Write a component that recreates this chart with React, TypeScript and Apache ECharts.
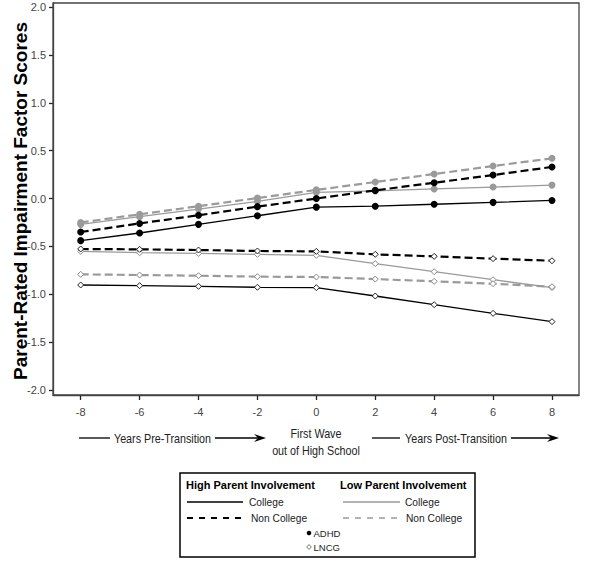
import React, { useEffect, useRef } from "react";
import * as echarts from "echarts";

const years = [-8, -6, -4, -2, 0, 2, 4, 6, 8];
const xTicks = [-8, -6, -4, -2, 0, 2, 4, 6, 8];
const yTicks = [-2, -1.5, -1, -0.5, 0, 0.5, 1, 1.5, 2];

// ADHD (filled circles)
const highCollegeADHD = [-0.44, -0.36, -0.27, -0.18, -0.09, -0.08, -0.06, -0.04, -0.02];
const highNonCollegeADHD = [-0.35, -0.26, -0.175, -0.085, 0.0, 0.085, 0.165, 0.245, 0.33];
const lowCollegeADHD = [-0.27, -0.19, -0.11, -0.03, 0.065, 0.08, 0.1, 0.12, 0.14];
const lowNonCollegeADHD = [-0.25, -0.165, -0.08, 0.005, 0.09, 0.172, 0.256, 0.339, 0.42];

// LNCG (open diamonds)
const highNonCollegeLNCG = [-0.527, -0.531, -0.538, -0.548, -0.552, -0.583, -0.604, -0.628, -0.65];
const lowCollegeLNCG = [-0.552, -0.566, -0.573, -0.583, -0.594, -0.68, -0.764, -0.848, -0.931];
const lowNonCollegeLNCG = [-0.792, -0.799, -0.806, -0.816, -0.82, -0.841, -0.865, -0.89, -0.921];
const highCollegeLNCG = [-0.903, -0.91, -0.917, -0.927, -0.931, -1.018, -1.109, -1.199, -1.286];

const BLACK = "#000000";
const GRAY = "#9a9a9a";
const FONT = "'Liberation Sans', Arial, sans-serif";

function pairs(vals: number[]) {
  return years.map((x, i) => [x, vals[i]]);
}

function makeSeries(name: string, vals: number[], color: string, dashed: boolean, adhd: boolean, z: number) {
  return {
    name,
    type: "line",
    data: pairs(vals),
    z,
    symbol: adhd ? "circle" : "diamond",
    symbolSize: adhd ? 7 : 6,
    lineStyle: {
      color,
      width: dashed ? 2.2 : 1.3,
      type: dashed ? [8, 4] : "solid",
    },
    itemStyle: adhd
      ? { color, borderColor: color, borderWidth: 0 }
      : { color: "#ffffff", borderColor: color === BLACK ? "#222" : "#888", borderWidth: 1 },
    emphasis: { disabled: true },
  };
}

function arrowHead(tipX: number, y: number) {
  return {
    type: "polygon",
    shape: {
      points: [
        [tipX, y],
        [tipX - 12, y - 4],
        [tipX - 8, y],
        [tipX - 12, y + 4],
      ],
    },
    style: { fill: "#000" },
  };
}

function condText(text: string, x: number, y: number) {
  return {
    type: "text",
    x,
    y,
    scaleX: 0.86,
    style: { text, fontFamily: FONT, fontSize: 12.5, fill: "#222", align: "center", verticalAlign: "middle" },
  };
}

function legText(text: string, x: number, y: number, size = 10.2) {
  return {
    type: "text",
    x,
    y,
    style: { text, fontFamily: FONT, fontSize: size, fill: "#222", align: "left", verticalAlign: "middle" },
  };
}

export default function App() {
  const ref = useRef<HTMLDivElement>(null);

  useEffect(() => {
    if (!ref.current) return;
    const chart = echarts.init(ref.current, null, { renderer: "svg" });
    const labelStyle = { fontFamily: FONT, fontSize: 11, color: "#444" };
    const option: any = {
      animation: false,
      backgroundColor: "#ffffff",
      grid: { left: 53, right: 21, top: 3, bottom: 166 },
      xAxis: {
        type: "value",
        min: -8.94,
        max: 8.917,
        axisLine: { show: true, onZero: false, lineStyle: { color: "#444", width: 1.3 } },
        axisTick: { show: true, length: 5, customValues: xTicks, lineStyle: { color: "#222", width: 1.3 } },
        axisLabel: { ...labelStyle, margin: 11, customValues: xTicks, formatter: (v: number) => String(v) },
        splitLine: { show: false },
      },
      yAxis: {
        type: "value",
        min: -2.052,
        max: 2.042,
        axisLine: { show: true, onZero: false, lineStyle: { color: "#444", width: 1.3 } },
        axisTick: { show: true, length: 4, customValues: yTicks, lineStyle: { color: "#222", width: 1.3 } },
        axisLabel: { ...labelStyle, margin: 7, customValues: yTicks, formatter: (v: number) => v.toFixed(1) },
        splitLine: { show: false },
      },
      series: [
        makeSeries("Low College LNCG", lowCollegeLNCG, GRAY, false, false, 2),
        makeSeries("Low Non College LNCG", lowNonCollegeLNCG, GRAY, true, false, 2),
        makeSeries("High College LNCG", highCollegeLNCG, BLACK, false, false, 3),
        makeSeries("High Non College LNCG", highNonCollegeLNCG, BLACK, true, false, 3),
        makeSeries("Low College ADHD", lowCollegeADHD, GRAY, false, true, 2),
        makeSeries("Low Non College ADHD", lowNonCollegeADHD, GRAY, true, true, 2),
        makeSeries("High College ADHD", highCollegeADHD, BLACK, false, true, 3),
        makeSeries("High Non College ADHD", highNonCollegeADHD, BLACK, true, true, 3),
      ],
      graphic: [
        {
          type: "rect",
          shape: { x: 53, y: 3, width: 526, height: 392 },
          style: { fill: "none", stroke: "#444", lineWidth: 1.3 },
          silent: true,
          z: 10,
        },
        {
          type: "text",
          x: 20,
          y: 201,
          rotation: Math.PI / 2,
          style: {
            text: "Parent-Rated Impairment Factor Scores",
            fontFamily: FONT,
            fontSize: 19,
            fontWeight: "bold",
            fill: "#000",
            align: "center",
            verticalAlign: "middle",
          },
        },
        { type: "line", shape: { x1: 79, y1: 438, x2: 110, y2: 438 }, style: { stroke: "#000", lineWidth: 1.3 } },
        condText("Years Pre-Transition", 162.5, 438),
        { type: "line", shape: { x1: 215, y1: 438, x2: 258, y2: 438 }, style: { stroke: "#000", lineWidth: 1.3 } },
        arrowHead(266, 438),
        condText("First Wave", 316, 433),
        condText("out of High School", 316, 450),
        { type: "line", shape: { x1: 372, y1: 438, x2: 400, y2: 438 }, style: { stroke: "#000", lineWidth: 1.3 } },
        condText("Years Post-Transition", 456, 438),
        { type: "line", shape: { x1: 511, y1: 438, x2: 552, y2: 438 }, style: { stroke: "#000", lineWidth: 1.3 } },
        arrowHead(559, 438),
        {
          type: "rect",
          shape: { x: 180, y: 473, width: 295, height: 84 },
          style: { fill: "#fff", stroke: "#000", lineWidth: 1.5 },
        },
        {
          type: "text",
          x: 186,
          y: 485,
          style: { text: "High Parent Involvement", fontFamily: FONT, fontSize: 11, fontWeight: "bold", fill: "#000", align: "left", verticalAlign: "middle" },
        },
        {
          type: "text",
          x: 340,
          y: 485,
          style: { text: "Low Parent Involvement", fontFamily: FONT, fontSize: 11, fontWeight: "bold", fill: "#000", align: "left", verticalAlign: "middle" },
        },
        { type: "line", shape: { x1: 187, y1: 502, x2: 243, y2: 502 }, style: { stroke: "#000", lineWidth: 1.3 } },
        legText("College", 249, 502),
        { type: "line", shape: { x1: 343, y1: 502, x2: 400, y2: 502 }, style: { stroke: GRAY, lineWidth: 1.3 } },
        legText("College", 405, 502),
        { type: "line", shape: { x1: 187, y1: 518, x2: 243, y2: 518 }, style: { stroke: "#000", lineWidth: 2, lineDash: [6, 6] } },
        legText("Non College", 251, 518),
        { type: "line", shape: { x1: 343, y1: 518, x2: 400, y2: 518 }, style: { stroke: GRAY, lineWidth: 1.3, lineDash: [6, 6] } },
        legText("Non College", 406, 518),
        { type: "circle", shape: { cx: 309, cy: 533, r: 2.3 }, style: { fill: "#000" } },
        legText("ADHD", 313.5, 533, 9.5),
        {
          type: "polygon",
          shape: { points: [[309, 544.5], [311.3, 547], [309, 549.5], [306.7, 547]] },
          style: { fill: "#fff", stroke: "#777", lineWidth: 1 },
        },
        legText("LNCG", 313.5, 547, 9.5),
      ],
    };
    chart.setOption(option);
    return () => chart.dispose();
  }, []);

  return (
    <div
      ref={ref}
      style={{ position: "fixed", left: 0, top: 0, width: 600, height: 561, background: "#fff" }}
    />
  );
}
